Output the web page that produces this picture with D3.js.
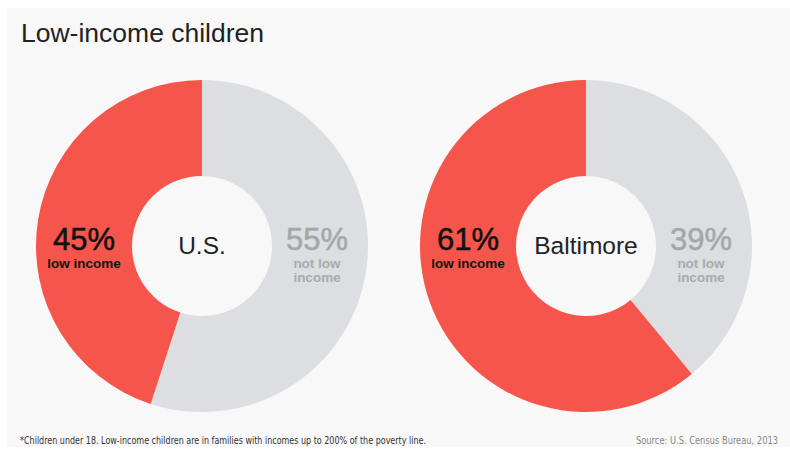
<!DOCTYPE html>
<html>
<head>
<meta charset="utf-8">
<script src="https://cdn.jsdelivr.net/npm/d3@7"></script>
<style>
  body { margin: 0; background: #fff; }
  svg { display: block; }
</style>
</head>
<body>
<svg id="chart"></svg>
<script>
// data
const regions = ["U.S.", "Baltimore"];
const lowIncome = [45, 61];
const notLowIncome = [55, 39];
const sliceLabels = ["low income", "not low income"];

const width = 790, height = 465;
const colors = ["#dcdee2", "#f5554a"]; // not low, low

const svg = d3.select("#chart")
  .attr("width", width)
  .attr("height", height);

// panel background
svg.append("rect")
  .attr("x", 7).attr("y", 8)
  .attr("width", width - 7).attr("height", 439)
  .attr("fill", "#f8f8f8");

const font = "'Liberation Sans', Arial, sans-serif";
const narrow = "'DejaVu Sans Condensed', 'Liberation Sans', sans-serif";

svg.append("text")
  .attr("x", 21).attr("y", 42)
  .style("font-family", font)
  .style("font-size", "26.5px")
  .style("fill", "#222")
  .text("Low-income children");

const outerR = 166, innerR = 70;
const cx = d3.scalePoint().domain(regions).range([202, 586]);
const cy = 246;

const pie = d3.pie().sort(null).value(d => d);
const arc = d3.arc().innerRadius(innerR).outerRadius(outerR);

regions.forEach((name, i) => {
  const g = svg.append("g").attr("transform", `translate(${cx(name)},${cy})`);
  const vals = [notLowIncome[i], lowIncome[i]];

  g.selectAll("path")
    .data(pie(vals))
    .join("path")
    .attr("d", arc)
    .attr("fill", (d, j) => colors[j]);

  // center label
  g.append("text")
    .attr("text-anchor", "middle")
    .attr("y", 8)
    .style("font-family", font)
    .style("font-size", "24.5px")
    .style("fill", "#222")
    .text(name);

  const mid = (innerR + outerR) / 2;

  // low income label (left)
  const lo = g.append("g").attr("transform", `translate(${-mid},0)`);
  lo.append("text")
    .attr("text-anchor", "middle").attr("y", 4)
    .style("font-family", font).style("font-size", "31px").style("fill", "#111")
    .style("stroke", "#111").style("stroke-width", 0.5)
    .text(lowIncome[i] + "%");
  lo.append("text")
    .attr("text-anchor", "middle").attr("y", 22)
    .style("font-family", font).style("font-size", "13.5px").style("font-weight", "bold").style("fill", "#111")
    .text(sliceLabels[0]);

  // not low label (right)
  const hi = g.append("g").attr("transform", `translate(${mid - 3},0)`);
  hi.append("text")
    .attr("text-anchor", "middle").attr("y", 4)
    .style("font-family", font).style("font-size", "31px").style("fill", "#a3a7a9")
    .style("stroke", "#a3a7a9").style("stroke-width", 0.5)
    .text(notLowIncome[i] + "%");
  const t = hi.append("text")
    .attr("text-anchor", "middle")
    .style("font-family", font).style("font-size", "13.5px").style("font-weight", "bold").style("fill", "#a8abad");
  t.append("tspan").attr("x", 0).attr("y", 22).text("not low");
  t.append("tspan").attr("x", 0).attr("y", 36).text("income");
});

// footer
svg.append("text")
  .attr("x", 20).attr("y", 444)
  .attr("textLength", 406).attr("lengthAdjust", "spacingAndGlyphs")
  .style("font-family", narrow)
  .style("font-size", "10px")
  .style("fill", "#333")
  .text("*Children under 18. Low-income children are in families with incomes up to 200% of the poverty line.");

svg.append("text")
  .attr("x", 778).attr("y", 444)
  .attr("text-anchor", "end")
  .attr("textLength", 142).attr("lengthAdjust", "spacingAndGlyphs")
  .style("font-family", narrow)
  .style("font-size", "10px")
  .style("fill", "#888")
  .text("Source: U.S. Census Bureau, 2013");
</script>
</body>
</html>
